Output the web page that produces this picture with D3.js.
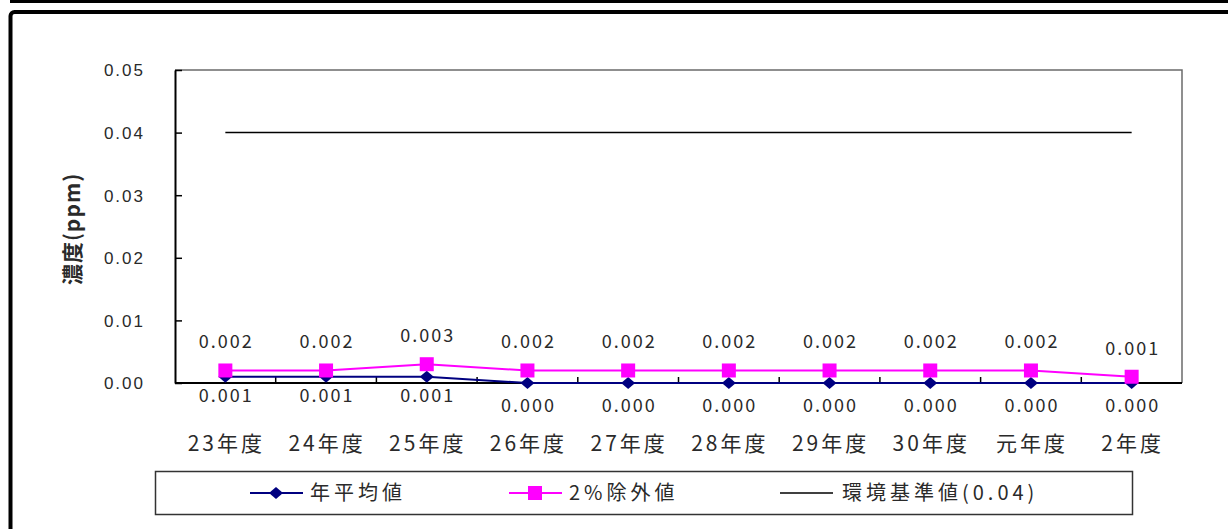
<!DOCTYPE html>
<html>
<head>
<meta charset="utf-8">
<script src="https://cdn.jsdelivr.net/npm/d3@7"></script>
<style>
  body { margin: 0; background: #fff; }
  svg { display: block; font-family: "Noto Sans CJK JP", "Noto Sans", sans-serif; }
</style>
</head>
<body>
<div id="chart"></div>
<script>
// data
const years = ["23年度", "24年度", "25年度", "26年度", "27年度", "28年度", "29年度", "30年度", "元年度", "2年度"];
const annualMean = [0.001, 0.001, 0.001, 0.000, 0.000, 0.000, 0.000, 0.000, 0.000, 0.000];
const excluded2pct = [0.002, 0.002, 0.003, 0.002, 0.002, 0.002, 0.002, 0.002, 0.002, 0.001];
const envStandard = 0.04;
const yTicks = [0, 0.01, 0.02, 0.03, 0.04, 0.05];

const width = 1228, height = 529;
const margin = { top: 70, right: 46, bottom: 146, left: 175 };
const plotW = width - margin.left - margin.right;
const plotH = height - margin.top - margin.bottom;

const navy = "#000080";
const pink = "#ff00ff";
const textColor = "#2a2a2a";

const svg = d3.select("#chart").append("svg")
  .attr("width", width)
  .attr("height", height);

// outer frame
svg.append("rect").attr("x", 10).attr("y", 0).attr("width", width).attr("height", 3).attr("fill", "#000");
svg.append("rect")
  .attr("x", 10.5).attr("y", 12)
  .attr("width", width + 20).attr("height", height)
  .attr("rx", 4)
  .attr("fill", "none").attr("stroke", "#000").attr("stroke-width", 4);

const g = svg.append("g").attr("transform", `translate(${margin.left},${margin.top})`);

const x = d3.scaleBand().domain(years).range([0, plotW]);
const y = d3.scaleLinear().domain([0, 0.05]).range([plotH, 0]);
const cx = (d) => x(d) + x.bandwidth() / 2;

// plot border (top and right are grey)
g.append("path")
  .attr("d", `M0,0H${plotW}V${plotH}`)
  .attr("fill", "none").attr("stroke", "#6b6b6b").attr("stroke-width", 1.5);

// y axis
const yAxis = g.append("g")
  .call(d3.axisLeft(y).tickValues(yTicks).tickSizeInner(-7).tickSizeOuter(0).tickPadding(30)
    .tickFormat(d3.format(".2f")));
yAxis.select(".domain").attr("stroke", "#000").attr("stroke-width", 2);
yAxis.selectAll(".tick line").attr("stroke", "#000").attr("stroke-width", 1.5);
yAxis.selectAll(".tick text")
  .attr("fill", textColor).style("font-size", "17px").style("letter-spacing", "2px")
  .attr("dy", "0.35em");

// x axis: ticks at category boundaries, labels at centres
const bounds = years.slice(1).map((d) => x(d));
g.append("g").selectAll("line").data(bounds).join("line")
  .attr("x1", (d) => d).attr("x2", (d) => d)
  .attr("y1", plotH).attr("y2", plotH - 6)
  .attr("stroke", "#000").attr("stroke-width", 1.5);
g.append("line")
  .attr("x1", 0).attr("x2", plotW).attr("y1", plotH).attr("y2", plotH)
  .attr("stroke", "#000").attr("stroke-width", 2);
g.append("g").selectAll("text").data(years).join("text")
  .attr("x", (d) => cx(d) + 1)
  .attr("y", plotH + 68)
  .attr("text-anchor", "middle")
  .attr("fill", textColor)
  .style("font-size", "21px").style("letter-spacing", "3px")
  .text((d) => d);

// y axis title
svg.append("text")
  .attr("transform", `translate(80,${margin.top + 159}) rotate(-90)`)
  .attr("text-anchor", "middle")
  .attr("fill", textColor)
  .style("font-size", "21px").style("font-weight", "bold").style("letter-spacing", "1px")
  .text("濃度(ppm)");

// environmental standard line
g.append("line")
  .attr("x1", cx(years[0])).attr("x2", cx(years[years.length - 1]))
  .attr("y1", y(envStandard)).attr("y2", y(envStandard))
  .attr("stroke", "#000").attr("stroke-width", 1.5);

const line = d3.line().x((d, i) => cx(years[i])).y((d) => y(d));

// annual mean series
g.append("path").datum(annualMean)
  .attr("d", line).attr("fill", "none").attr("stroke", navy).attr("stroke-width", 2);
const diamond = "M0,-6L7,0L0,6L-7,0Z";
g.append("g").selectAll("path").data(annualMean).join("path")
  .attr("transform", (d, i) => `translate(${cx(years[i])},${y(d)})`)
  .attr("d", diamond).attr("fill", navy);

// 2% excluded series
g.append("path").datum(excluded2pct)
  .attr("d", line).attr("fill", "none").attr("stroke", pink).attr("stroke-width", 2);
g.append("g").selectAll("rect").data(excluded2pct).join("rect")
  .attr("x", (d, i) => cx(years[i]) - 7)
  .attr("y", (d) => y(d) - 7)
  .attr("width", 14).attr("height", 14)
  .attr("fill", pink);

// value labels
g.append("g").selectAll("text").data(excluded2pct).join("text")
  .attr("x", (d, i) => cx(years[i]) + 1)
  .attr("y", (d) => y(d) - 22)
  .attr("text-anchor", "middle")
  .attr("fill", textColor)
  .style("font-size", "18px").style("letter-spacing", "2px")
  .text((d) => d.toFixed(3));
g.append("g").selectAll("text").data(annualMean).join("text")
  .attr("x", (d, i) => cx(years[i]) + 1)
  .attr("y", (d) => y(d) + 29 - (d > 0 ? 4 : 0))
  .attr("text-anchor", "middle")
  .attr("fill", textColor)
  .style("font-size", "18px").style("letter-spacing", "2px")
  .text((d) => d.toFixed(3));

// legend
const legend = svg.append("g").attr("transform", "translate(155,471)");
legend.append("rect")
  .attr("x", 0.5).attr("y", 0.5).attr("width", 977).attr("height", 43)
  .attr("fill", "#fff").attr("stroke", "#333").attr("stroke-width", 1.5);

const legendItems = [
  { label: "年平均値", color: navy, marker: "diamond", x: 95 },
  { label: "2%除外値", color: pink, marker: "square", x: 354 },
  { label: "環境基準値(0.04)", color: "#000", marker: null, x: 625 },
];
const li = legend.selectAll(".item").data(legendItems).join("g")
  .attr("class", "item")
  .attr("transform", (d) => `translate(${d.x},22)`);
li.append("line").attr("x1", 0).attr("x2", 53).attr("y1", 0).attr("y2", 0)
  .attr("stroke", (d) => d.color).attr("stroke-width", (d) => d.marker ? 2 : 1.5);
li.filter((d) => d.marker === "diamond").append("path")
  .attr("transform", "translate(26,0)").attr("d", diamond).attr("fill", navy);
li.filter((d) => d.marker === "square").append("rect")
  .attr("x", 19).attr("y", -7).attr("width", 14).attr("height", 14).attr("fill", pink);
li.append("text")
  .attr("x", (d) => d.marker ? 60 : 62)
  .attr("dy", "0.35em")
  .attr("fill", textColor)
  .style("font-size", "20px").style("letter-spacing", "4px")
  .text((d) => d.label);
</script>
</body>
</html>
